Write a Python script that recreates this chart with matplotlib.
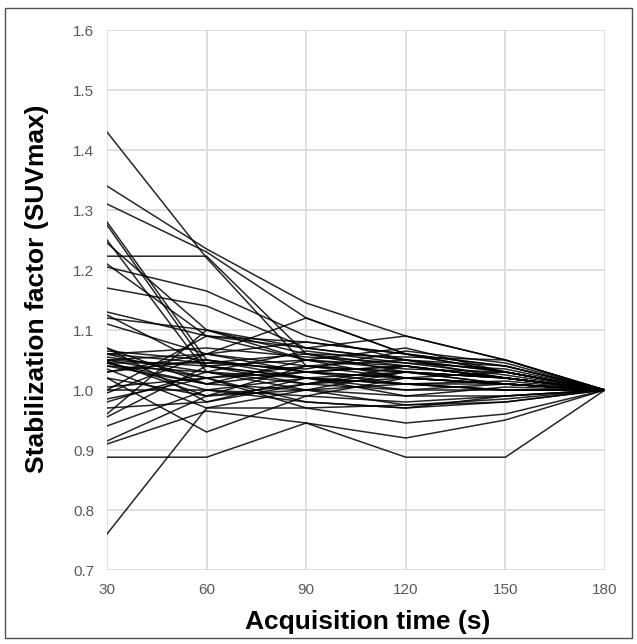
import matplotlib.pyplot as plt
from matplotlib.patches import Rectangle

plt.rcParams["font.family"] = ["Liberation Sans", "DejaVu Sans"]

# acquisition times (s)
times = [30, 60, 90, 120, 150, 180]

# stabilization factor (SUVmax) per lesion, one row per lesion
factors = [
    [1.43, 1.22, 1.04, 1.02, 1.01, 1.0],
    [1.34, 1.235, 1.145, 1.09, 1.05, 1.0],
    [1.31, 1.23, 1.12, 1.06, 1.03, 1.0],
    [1.28, 1.05, 1.03, 1.02, 1.01, 1.0],
    [1.275, 1.04, 1.01, 1.03, 1.02, 1.0],
    [1.25, 1.03, 1.00, 1.01, 1.00, 1.0],
    [1.245, 1.10, 1.06, 1.04, 1.02, 1.0],
    [1.223, 1.223, 1.06, 1.03, 1.02, 1.0],
    [1.21, 1.09, 1.05, 1.07, 1.03, 1.0],
    [1.205, 1.165, 1.09, 1.05, 1.02, 1.0],
    [1.17, 1.14, 1.07, 1.05, 1.03, 1.0],
    [1.13, 1.09, 1.08, 1.06, 1.04, 1.0],
    [1.125, 1.04, 1.02, 1.03, 1.01, 1.0],
    [1.12, 1.10, 1.05, 1.02, 1.01, 1.0],
    [1.11, 1.06, 1.12, 1.06, 1.03, 1.0],
    [1.07, 0.98, 1.01, 1.02, 1.01, 1.0],
    [1.065, 1.05, 1.03, 1.04, 1.02, 1.0],
    [1.06, 1.02, 1.04, 1.03, 1.02, 1.0],
    [1.055, 1.03, 1.02, 1.00, 1.01, 1.0],
    [1.05, 1.04, 1.05, 1.04, 1.02, 1.0],
    [1.045, 1.00, 1.02, 1.01, 1.00, 1.0],
    [1.04, 1.01, 1.03, 1.02, 1.01, 1.0],
    [1.035, 0.97, 1.00, 1.03, 1.02, 1.0],
    [1.03, 1.05, 1.02, 1.01, 1.00, 1.0],
    [1.02, 0.93, 0.99, 0.98, 0.99, 1.0],
    [1.00, 1.09, 1.07, 1.05, 1.03, 1.0],
    [0.995, 1.06, 1.03, 1.04, 1.02, 1.0],
    [0.985, 1.02, 0.98, 0.97, 0.99, 1.0],
    [0.98, 1.03, 1.01, 1.00, 1.00, 1.0],
    [0.96, 1.10, 1.07, 1.09, 1.05, 1.0],
    [0.955, 1.04, 1.02, 1.01, 1.01, 1.0],
    [0.94, 1.00, 0.98, 0.97, 0.98, 1.0],
    [0.915, 0.99, 1.00, 0.99, 0.99, 1.0],
    [0.91, 0.965, 0.945, 0.92, 0.95, 1.0],
    [0.888, 0.888, 0.945, 0.888, 0.888, 1.0],
    [0.76, 0.97, 0.97, 0.975, 0.985, 1.0],
    [1.05, 1.02, 0.97, 0.945, 0.96, 1.0],
    [1.048, 0.99, 1.04, 1.05, 1.04, 1.0],
    [1.06, 1.045, 1.06, 1.055, 1.05, 1.0],
    [1.00, 1.00, 0.99, 1.02, 1.03, 1.0],
    [1.03, 1.06, 1.04, 1.03, 1.01, 1.0],
    [1.045, 1.01, 1.00, 0.975, 0.98, 1.0],
    [1.05, 1.06, 1.08, 1.06, 1.04, 1.0],
    [1.04, 1.03, 1.065, 1.045, 1.025, 1.0],
    [1.07, 1.01, 1.05, 1.035, 1.03, 1.0],
    [1.02, 0.99, 1.01, 1.04, 1.02, 1.0],
    [1.005, 1.02, 1.03, 1.01, 1.015, 1.0],
    [1.06, 1.07, 1.055, 1.045, 1.035, 1.0],
    [0.97, 0.98, 1.02, 0.99, 1.005, 1.0],
    [1.045, 1.045, 1.035, 1.065, 1.045, 1.0],
]

x_ticks = [30, 60, 90, 120, 150, 180]
y_ticks = [0.7, 0.8, 0.9, 1.0, 1.1, 1.2, 1.3, 1.4, 1.5, 1.6]

fig = plt.figure(figsize=(6.37, 6.44), dpi=100)
ax = fig.add_axes([107 / 637, 1 - 570 / 644, (605 - 107) / 637, (570 - 30) / 644])

for row in factors:
    ax.plot(times, row, color="black", linewidth=1.1, alpha=0.85, solid_joinstyle="miter")

ax.set_xlim(30, 180)
ax.set_ylim(0.7, 1.6)
ax.set_xticks(x_ticks)
ax.set_yticks(y_ticks)
ax.set_yticklabels([f"{v:.1f}" for v in y_ticks])
ax.grid(True, color="#d9d9d9", linewidth=1.2)
ax.set_axisbelow(True)
for side in ["top", "right", "left", "bottom"]:
    ax.spines[side].set_visible(False)
ax.tick_params(length=0, labelsize=11, colors="#595959", pad=9)

ax.set_xlabel("Acquisition time (s)", fontsize=19, fontweight="bold")
ax.set_ylabel("Stabilization factor (SUVmax)", fontsize=19, fontweight="bold")
ax.xaxis.set_label_coords(0.523, -0.075)
ax.yaxis.set_label_coords(-0.117, 0.52)

# thin frame around the whole figure
fig.patches.append(Rectangle((5 / 637, 6 / 644), 627 / 637, 630 / 644,
                             transform=fig.transFigure, fill=False,
                             edgecolor="#505050", linewidth=1.0))

fig.savefig("out.png", dpi=100)
